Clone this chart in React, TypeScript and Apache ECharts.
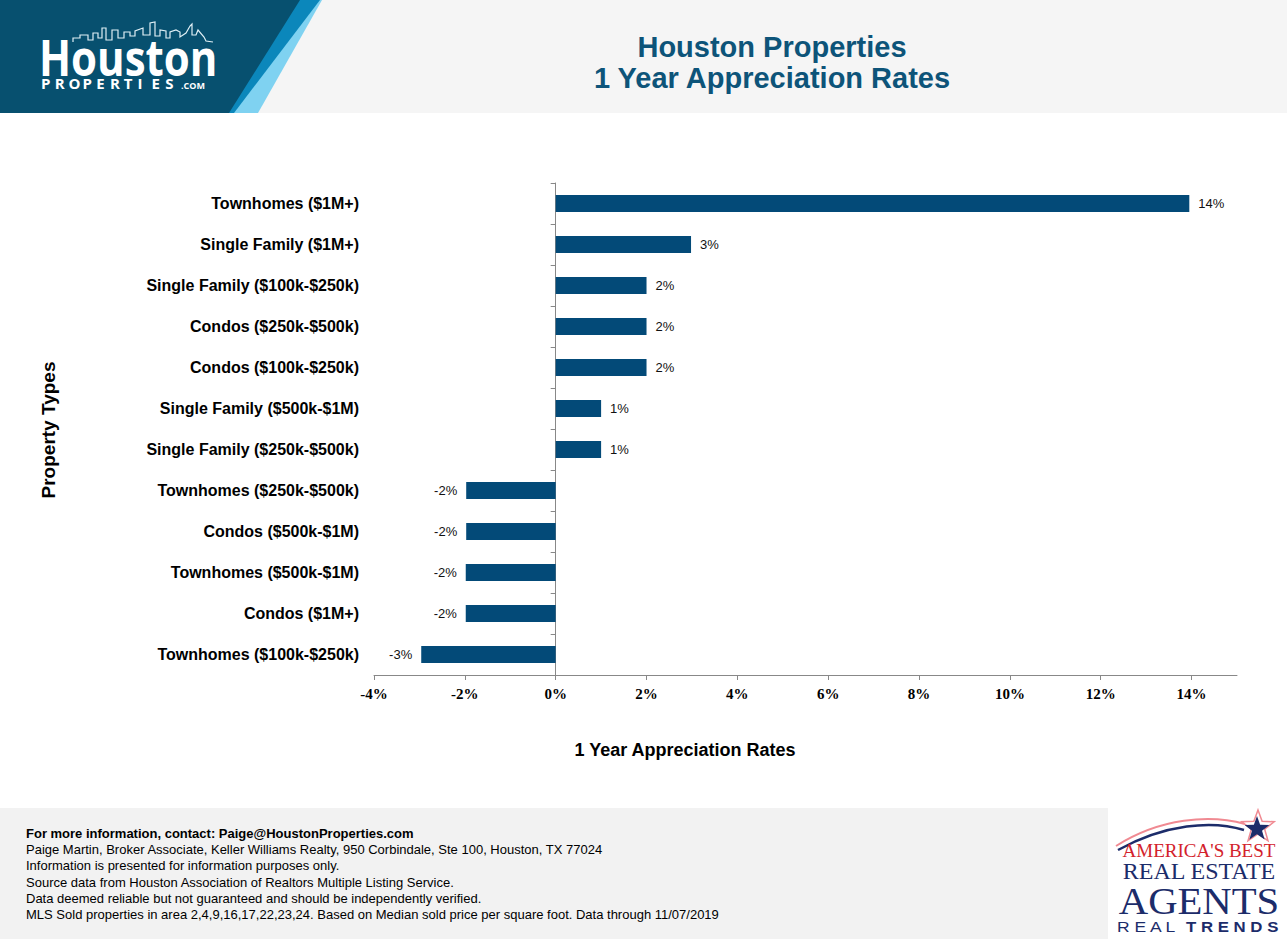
import React, { useEffect, useRef } from "react";
import * as echarts from "echarts";

const categories = [
  "Townhomes ($1M+)",
  "Single Family ($1M+)",
  "Single Family ($100k-$250k)",
  "Condos ($250k-$500k)",
  "Condos ($100k-$250k)",
  "Single Family ($500k-$1M)",
  "Single Family ($250k-$500k)",
  "Townhomes ($250k-$500k)",
  "Condos ($500k-$1M)",
  "Townhomes ($500k-$1M)",
  "Condos ($1M+)",
  "Townhomes ($100k-$250k)",
];
const rates = [13.95, 2.98, 2.0, 2.0, 2.0, 1.0, 1.0, -1.97, -1.97, -1.98, -1.98, -2.96];
const xTicks = [-4, -2, 0, 2, 4, 6, 8, 10, 12, 14];

const titleLines = ["Houston Properties", "1 Year Appreciation Rates"];
const yAxisTitle = "Property Types";
const xAxisTitle = "1 Year Appreciation Rates";
const footerHeading = "For more information, contact: Paige@HoustonProperties.com";
const footerLines = [
  "Paige Martin, Broker Associate, Keller Williams Realty, 950 Corbindale, Ste 100, Houston, TX 77024",
  "Information is presented for information purposes only.",
  "Source data from Houston Association of Realtors Multiple Listing Service.",
  "Data deemed reliable but not guaranteed and should be independently verified.",
  "MLS Sold properties in area 2,4,9,16,17,22,23,24. Based on Median sold price per square foot. Data through 11/07/2019",
];

const SANS = "'Liberation Sans', Arial, sans-serif";
const SERIF = "'Liberation Serif', 'Times New Roman', serif";
const BAR = "#034a78";
const NAVY = "#1c2c6a";
const RED = "#d3222c";

function starPoints(cx: number, cy: number, ro: number, ri: number) {
  const pts: number[][] = [];
  for (let i = 0; i < 10; i++) {
    const r = i % 2 === 0 ? ro : ri;
    const a = -Math.PI / 2 + (i * Math.PI) / 5;
    pts.push([cx + r * Math.cos(a), cy + r * Math.sin(a)]);
  }
  return pts;
}

export default function App() {
  const ref = useRef<HTMLDivElement>(null);
  useEffect(() => {
    if (!ref.current) return;
    const chart = echarts.init(ref.current, undefined, { renderer: "svg" });

    const graphics: any[] = [];
    // header
    graphics.push({ type: "rect", shape: { x: 0, y: 0, width: 1287, height: 113 }, style: { fill: "#f5f5f5" }, z: -10 });
    graphics.push({ type: "polygon", shape: { points: [[296, 0], [322, 0], [258, 113], [226, 113]] }, style: { fill: "#7fd2f1" } });
    graphics.push({ type: "polygon", shape: { points: [[296, 0], [320, 0], [234, 113], [226, 113]] }, style: { fill: "#0b87bb" } });
    graphics.push({ type: "polygon", shape: { points: [[0, 0], [300, 0], [229, 113], [0, 113]] }, style: { fill: "#07506f" } });
    // skyline
    graphics.push({
      type: "polyline",
      shape: {
        points: [[73, 42], [73, 38], [80, 38], [80, 35], [88, 35], [88, 40], [93, 40], [93, 33], [98, 33], [98, 38], [102, 38], [102, 28], [106, 28], [106, 40], [112, 40], [112, 30], [118, 30], [118, 38], [124, 38], [124, 32], [130, 32], [130, 36], [135, 36], [135, 31], [143, 28], [143, 35], [150, 35], [150, 23], [155, 22], [155, 36], [160, 36], [160, 30], [166, 31], [166, 38], [170, 38], [170, 32], [176, 30], [180, 32], [180, 37], [186, 33], [190, 26], [192, 24], [192, 35], [196, 35], [198, 30], [204, 37], [206, 41], [213, 42]],
      },
      style: { stroke: "#dfeff5", lineWidth: 1.2, fill: null },
    });
    graphics.push({
      type: "text", x: 39, y: 57, scaleX: 0.84,
      style: { text: "Houston", font: "bold 50px 'Open Sans', sans-serif", fill: "#ffffff", verticalAlign: "middle", textAlign: "left" },
    });
    "PROPERTIES".split("").forEach((ch, i) => {
      graphics.push({
        type: "text", x: 41 + i * 13.8, y: 83,
        style: { text: ch, font: "bold 15px 'Open Sans', sans-serif", fill: "#ffffff", verticalAlign: "middle" },
      });
    });
    graphics.push({ type: "text", x: 181, y: 85, style: { text: ".COM", font: "bold 9px 'Open Sans', sans-serif", fill: "#ffffff", verticalAlign: "middle" } });
    // title
    titleLines.forEach((t, i) => {
      graphics.push({
        type: "text", x: 772, y: 47 + i * 31,
        style: { text: t, font: `bold 29px ${SANS}`, fill: "#0d5479", textAlign: "center", verticalAlign: "middle" },
      });
    });
    // axis titles
    graphics.push({
      type: "text", x: 48, y: 430, rotation: Math.PI / 2,
      style: { text: yAxisTitle, font: `bold 19px ${SANS}`, fill: "#000", textAlign: "center", verticalAlign: "middle" },
    });
    graphics.push({
      type: "text", x: 685, y: 750,
      style: { text: xAxisTitle, font: `bold 18px ${SANS}`, fill: "#000", textAlign: "center", verticalAlign: "middle" },
    });
    // footer
    graphics.push({ type: "rect", shape: { x: 0, y: 808, width: 1108, height: 131 }, style: { fill: "#f2f2f2" }, z: -10 });
    graphics.push({
      type: "text", x: 26, y: 833,
      style: { text: footerHeading, font: `bold 13px ${SANS}`, fill: "#000", verticalAlign: "middle" },
    });
    footerLines.forEach((t, i) => {
      graphics.push({
        type: "text", x: 26, y: 849.5 + i * 16.3,
        style: { text: t, font: `13px ${SANS}`, fill: "#000", verticalAlign: "middle" },
      });
    });
    // right logo
    graphics.push({ type: "bezierCurve", shape: { x1: 1116, y1: 846, x2: 1245, y2: 824, cpx1: 1160, cpy1: 818, cpx2: 1210, cpy2: 814 }, style: { stroke: "#f08a92", lineWidth: 2, fill: null } });
    graphics.push({ type: "bezierCurve", shape: { x1: 1118, y1: 850, x2: 1244, y2: 830, cpx1: 1165, cpy1: 824, cpx2: 1212, cpy2: 820 }, style: { stroke: NAVY, lineWidth: 2.5, fill: null } });
    graphics.push({ type: "polygon", shape: { points: starPoints(1258, 827, 17, 7) }, style: { fill: "#ffffff", stroke: "#f08a92", lineWidth: 1.5 } });
    graphics.push({ type: "polygon", shape: { points: starPoints(1257, 829, 13, 5.3) }, style: { fill: NAVY } });
    graphics.push({ type: "text", x: 1199, y: 850, style: { text: "AMERICA'S BEST", font: `19px ${SERIF}`, fill: RED, textAlign: "center", verticalAlign: "middle" } });
    graphics.push({ type: "text", x: 1199, y: 871, style: { text: "REAL ESTATE", font: `24px ${SERIF}`, fill: NAVY, textAlign: "center", verticalAlign: "middle" } });
    graphics.push({ type: "text", x: 1199, y: 901, scaleX: 1.1, style: { text: "AGENTS", font: `37px ${SERIF}`, fill: NAVY, textAlign: "center", verticalAlign: "middle" } });
    graphics.push({ type: "text", x: 1117, y: 927, scaleX: 1.25, style: { text: "R E A L", font: `14px ${SANS}`, fill: NAVY, textAlign: "left", verticalAlign: "middle" } });
    graphics.push({ type: "text", x: 1186, y: 927, scaleX: 1.2, style: { text: "T R E N D S", font: `bold 14px ${SANS}`, fill: NAVY, textAlign: "left", verticalAlign: "middle" } });

    chart.setOption({
      animation: false,
      backgroundColor: "#ffffff",
      grid: { left: 374, right: 50, top: 183, bottom: 264, containLabel: false, outerBoundsMode: "none" },
      xAxis: {
        type: "value",
        min: -4,
        max: 15,
        interval: 2,
        splitLine: { show: false },
        axisLine: { show: true, lineStyle: { color: "#888888", width: 1 } },
        axisTick: { show: true, length: 5, lineStyle: { color: "#888888" }, customValues: xTicks },
        axisLabel: {
          customValues: xTicks,
          formatter: (v: number) => `${v}%`,
          fontFamily: SERIF,
          fontWeight: "bold",
          fontSize: 15,
          color: "#000",
          margin: 11,
        },
      },
      yAxis: {
        type: "category",
        data: categories,
        inverse: true,
        axisLine: { show: true, onZero: true, lineStyle: { color: "#888888", width: 1 } },
        axisTick: { show: true, length: 5, lineStyle: { color: "#888888" } },
        axisLabel: {
          fontFamily: SANS,
          fontWeight: "bold",
          fontSize: 16,
          color: "#000",
          margin: 15,
        },
        splitLine: { show: false },
      },
      series: [
        {
          type: "bar",
          barWidth: 17,
          itemStyle: { color: BAR },
          data: rates.map((v) => ({
            value: v,
            label: { position: v >= 0 ? "right" : "left" },
          })),
          label: {
            show: true,
            distance: 9,
            fontFamily: SANS,
            fontSize: 13,
            color: "#111",
            formatter: (p: any) => `${Math.round(p.value)}%`,
          },
        },
      ],
      graphic: { elements: graphics },
    });
    return () => chart.dispose();
  }, []);
  return (
    <div
      ref={ref}
      style={{ position: "fixed", left: 0, top: 0, width: 1287, height: 939 }}
    />
  );
}
